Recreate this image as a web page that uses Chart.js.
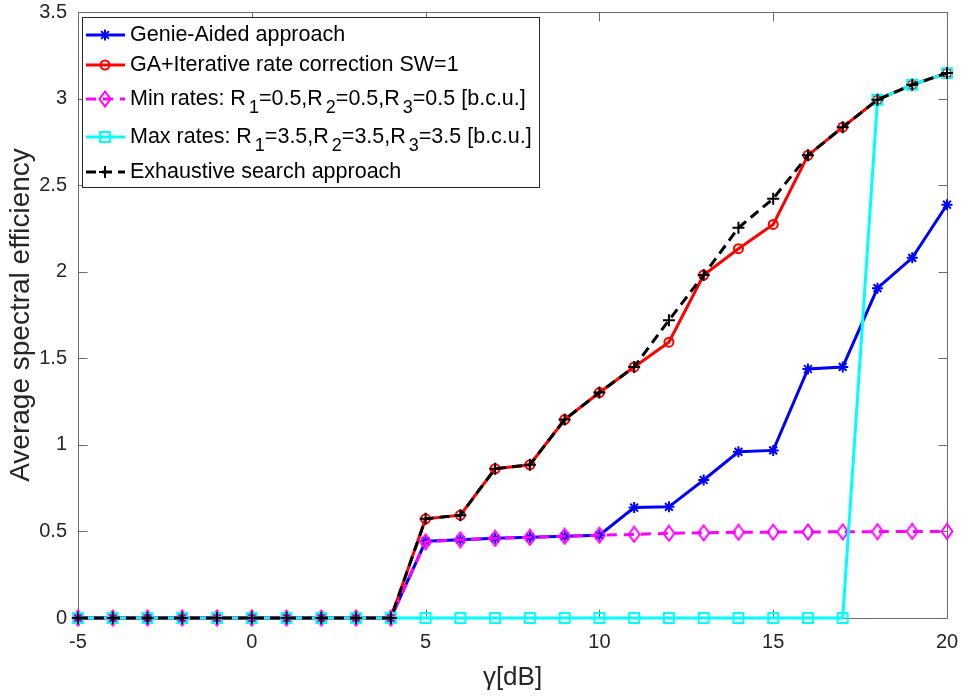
<!DOCTYPE html>
<html lang="en">
<head>
<meta charset="UTF-8">
<title>Average spectral efficiency</title>
<script src="https://cdn.jsdelivr.net/npm/chart.js"></script>
<style>
  html, body { margin: 0; padding: 0; background: #fff; }
  #chart { display: block; }
</style>
</head>
<body>
<canvas id="chart" width="963" height="696"></canvas>
<script>
// SNR axis (dB)
const gammaDb = [-5, -4, -3, -2, -1, 0, 1, 2, 3, 4, 5, 6, 7, 8, 9, 10, 11, 12, 13, 14, 15, 16, 17, 18, 19, 20];

// average spectral efficiency per scheme
const genieAided  = [0, 0, 0, 0, 0, 0, 0, 0, 0, 0, 0.443, 0.452, 0.460, 0.466, 0.472, 0.478, 0.638, 0.642, 0.797, 0.960, 0.968, 1.438, 1.450, 1.905, 2.080, 2.387];
const gaIterative = [0, 0, 0, 0, 0, 0, 0, 0, 0, 0, 0.573, 0.594, 0.862, 0.885, 1.146, 1.302, 1.450, 1.593, 1.981, 2.133, 2.273, 2.672, 2.835, 2.993, 3.080, 3.147];
const minRates    = [0, 0, 0, 0, 0, 0, 0, 0, 0, 0, 0.440, 0.452, 0.460, 0.466, 0.472, 0.478, 0.483, 0.489, 0.492, 0.495, 0.496, 0.497, 0.498, 0.499, 0.500, 0.500];
const maxRates    = [0, 0, 0, 0, 0, 0, 0, 0, 0, 0, 0, 0, 0, 0, 0, 0, 0, 0, 0, 0, 0, 0, 0, 2.993, 3.080, 3.147];
const exhaustive  = [0, 0, 0, 0, 0, 0, 0, 0, 0, 0, 0.573, 0.594, 0.862, 0.885, 1.146, 1.302, 1.450, 1.720, 1.981, 2.254, 2.422, 2.672, 2.835, 2.993, 3.080, 3.147];

// legend text; "_n" marks a subscript
const seriesLabels = [
  'Genie-Aided approach',
  'GA+Iterative rate correction SW=1',
  'Min rates: R_1=0.5,R_2=0.5,R_3=0.5 [b.c.u.]',
  'Max rates: R_1=3.5,R_2=3.5,R_3=3.5 [b.c.u.]',
  'Exhaustive search approach'
];

const xTicks = [-5, 0, 5, 10, 15, 20];
const yTicks = [0, 0.5, 1, 1.5, 2, 2.5, 3, 3.5];

const FONT = "'Liberation Sans', Arial, Helvetica, sans-serif";
const AXIS_COLOR = '#262626';

const toPoints = ys => gammaDb.map((x, i) => ({ x: x, y: ys[i] }));

// open diamond, a bit taller than wide
function diamondMarker(color) {
  const c = document.createElement('canvas');
  c.width = 14; c.height = 18;
  const g = c.getContext('2d');
  g.strokeStyle = color;
  g.lineWidth = 2;
  g.beginPath();
  g.moveTo(7, 1.5); g.lineTo(12.5, 9); g.lineTo(7, 16.5); g.lineTo(1.5, 9);
  g.closePath();
  g.stroke();
  return c;
}

function series(label, ys, color, style, radius, dash, order) {
  return {
    label: label,
    data: toPoints(ys),
    borderColor: color,
    backgroundColor: color,
    borderWidth: 3,
    borderDash: dash,
    pointStyle: style,
    pointRadius: radius,
    pointBorderWidth: 2,
    pointBorderColor: color,
    pointBackgroundColor: 'rgba(0,0,0,0)',
    tension: 0,
    clip: false,
    order: order
  };
}

// keep the plot box exactly where the layout padding puts it
function fixBox(size) {
  return s => {
    if (s.isHorizontal()) s.height = size; else s.width = size;
    s.paddingLeft = s.paddingRight = s.paddingTop = s.paddingBottom = 0;
  };
}

// box, inward ticks and the legend are drawn by hand
const framePlugin = {
  id: 'frame',
  beforeDraw(chart) {
    const ctx = chart.ctx;
    ctx.save();
    ctx.fillStyle = '#ffffff';
    ctx.fillRect(0, 0, chart.width, chart.height);
    ctx.restore();
  },
  beforeDatasetsDraw(chart) {
    const { ctx, chartArea: a, scales } = chart;
    const l = Math.round(a.left) + 0.5, r = Math.round(a.right) + 0.5;
    const t = Math.round(a.top) + 0.5, b = Math.round(a.bottom) + 0.5;
    const len = 9;
    ctx.save();
    ctx.strokeStyle = '#6b6b6b';
    ctx.lineWidth = 1;
    ctx.strokeRect(l, t, r - l, b - t);
    ctx.beginPath();
    xTicks.forEach(v => {
      const px = Math.round(scales.x.getPixelForValue(v)) + 0.5;
      ctx.moveTo(px, b); ctx.lineTo(px, b - len);
      ctx.moveTo(px, t); ctx.lineTo(px, t + len);
    });
    yTicks.forEach(v => {
      const py = Math.round(scales.y.getPixelForValue(v)) + 0.5;
      ctx.moveTo(l, py); ctx.lineTo(l + len, py);
      ctx.moveTo(r, py); ctx.lineTo(r - len, py);
    });
    ctx.stroke();
    ctx.restore();
  },
  afterDraw(chart) {
    const ctx = chart.ctx;
    const box = { x: 82, y: 17, w: 457, h: 170 };
    const rows = [18, 48, 82, 120, 155];
    ctx.save();
    ctx.fillStyle = '#ffffff';
    ctx.fillRect(box.x, box.y, box.w, box.h);
    ctx.strokeStyle = '#262626';
    ctx.lineWidth = 1;
    ctx.strokeRect(box.x + 0.5, box.y + 0.5, box.w, box.h);

    chart.data.datasets.forEach((ds, i) => {
      const cy = box.y + rows[i];
      // line sample
      ctx.save();
      ctx.strokeStyle = ds.borderColor;
      ctx.lineWidth = ds.borderWidth;
      ctx.setLineDash(ds.borderDash || []);
      ctx.beginPath();
      ctx.moveTo(box.x + 4, cy);
      ctx.lineTo(box.x + 43, cy);
      ctx.stroke();
      ctx.restore();
      // marker sample
      ctx.save();
      ctx.strokeStyle = ds.pointBorderColor;
      ctx.fillStyle = 'rgba(0,0,0,0)';
      ctx.lineWidth = ds.pointBorderWidth;
      Chart.helpers.drawPoint(ctx, {
        pointStyle: ds.pointStyle, radius: ds.pointRadius, rotation: 0, borderWidth: ds.pointBorderWidth
      }, box.x + 23, cy);
      ctx.restore();
      // label with subscripts
      drawRichText(ctx, ds.label, box.x + 48, cy);
    });
    ctx.restore();
  }
};

function drawRichText(ctx, text, x, y) {
  const parts = text.split(/(_\d)/);
  ctx.fillStyle = '#000000';
  ctx.textBaseline = 'middle';
  ctx.textAlign = 'left';
  parts.forEach(p => {
    if (!p) return;
    if (p[0] === '_') {
      ctx.font = '18px ' + FONT;
      x += 3;
      ctx.fillText(p.slice(1), x, y + 9);
      x += ctx.measureText(p.slice(1)).width;
    } else {
      ctx.font = '21.5px ' + FONT;
      ctx.fillText(p, x, y);
      x += ctx.measureText(p).width;
    }
  });
}

new Chart(document.getElementById('chart'), {
  type: 'line',
  data: {
    datasets: [
      series(seriesLabels[0], genieAided, '#0000ff', 'star', 5.5, [], 5),
      series(seriesLabels[1], gaIterative, '#ff0000', 'circle', 4.5, [], 4),
      series(seriesLabels[2], minRates, '#ff00ff', diamondMarker('#ff00ff'), 7, [10, 7], 3),
      series(seriesLabels[3], maxRates, '#00ffff', 'rect', 7, [], 2),
      series(seriesLabels[4], exhaustive, '#000000', 'cross', 6, [10, 6], 1)
    ]
  },
  options: {
    responsive: false,
    animation: false,
    layout: { padding: { top: 12, right: 16, left: 0, bottom: 0 } },
    plugins: {
      legend: { display: false },
      tooltip: { enabled: false }
    },
    elements: { point: { hitRadius: 0 } },
    scales: {
      x: {
        type: 'linear',
        min: -5,
        max: 20,
        afterBuildTicks: s => { s.ticks = xTicks.map(v => ({ value: v })); },
        afterFit: fixBox(78),
        grid: { display: false, drawTicks: false },
        border: { display: false },
        ticks: {
          padding: 12, color: AXIS_COLOR, maxRotation: 0,
          font: { family: FONT, size: 20 },
          callback: v => String(v)
        },
        title: {
          display: true,
          text: 'γ[dB]',
          color: AXIS_COLOR,
          font: { family: FONT, size: 26 },
          padding: { top: 0, bottom: 3 }
        }
      },
      y: {
        min: 0,
        max: 3.5,
        afterBuildTicks: s => { s.ticks = yTicks.map(v => ({ value: v })); },
        afterFit: fixBox(78),
        grid: { display: false, drawTicks: false },
        border: { display: false },
        ticks: {
          padding: 11, color: AXIS_COLOR,
          font: { family: FONT, size: 20 },
          callback: v => String(v)
        },
        title: {
          display: true,
          text: 'Average spectral efficiency',
          color: AXIS_COLOR,
          font: { family: FONT, size: 28 },
          padding: { top: 4, bottom: 0 }
        }
      }
    }
  },
  plugins: [framePlugin]
});
</script>
</body>
</html>
